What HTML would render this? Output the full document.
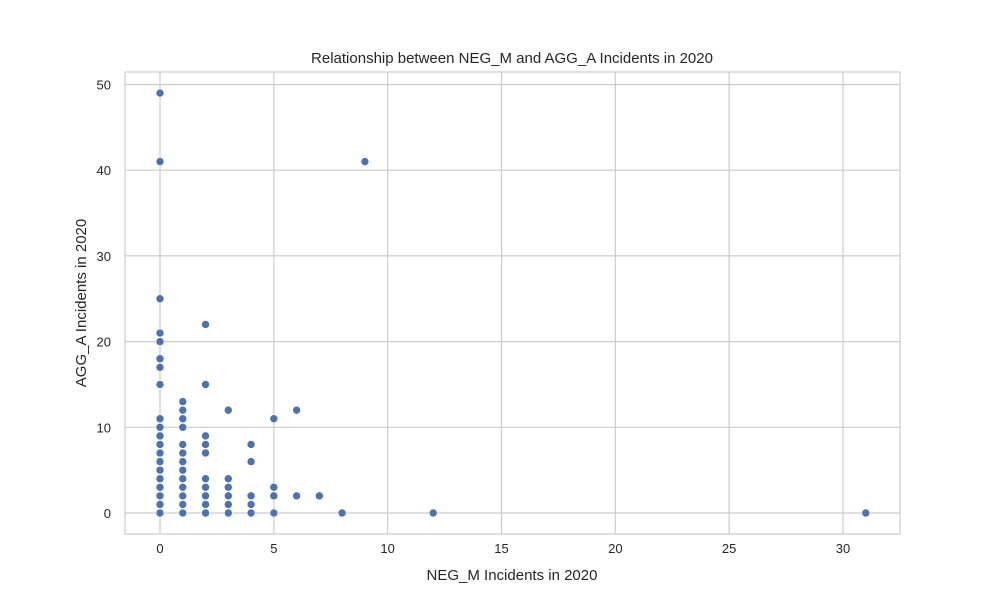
<!DOCTYPE html>
<html><head><meta charset="utf-8"><style>
body{margin:0;background:#fff;font-family:"Liberation Sans","DejaVu Sans",sans-serif;}
</style></head><body>
<svg id="chart" width="1000" height="600" style="display:block">
<rect x="125" y="72" width="775" height="462" fill="#fff" stroke="#ccc" stroke-width="1.2"/>
<g id="grid"></g><g id="ticks"></g><g id="pts"></g>
<text x="512" y="63" text-anchor="middle" font-size="15" fill="#262626">Relationship between NEG_M and AGG_A Incidents in 2020</text>
<text x="512" y="580" text-anchor="middle" font-size="15" fill="#262626">NEG_M Incidents in 2020</text>
<text transform="translate(86,303) rotate(-90)" text-anchor="middle" font-size="15" fill="#262626">AGG_A Incidents in 2020</text>
</svg>
<script>
const xTicks=[0,5,10,15,20,25,30];
const yTicks=[0,10,20,30,40,50];
const xVals=[0,0,0,0,0,0,0,0,0,0,0,0,0,0,0,0,0,0,0,0,
1,1,1,1,1,1,1,1,1,1,1,1,1,
2,2,2,2,2,2,2,2,2,2,
3,3,3,3,3,3,
4,4,4,4,4,
5,5,5,5,
6,6,7,8,9,12,31];
const yVals=[0,1,2,3,4,5,6,7,8,9,10,11,15,17,18,20,21,25,41,49,
0,1,2,3,4,5,6,7,8,10,11,12,13,
0,1,2,3,4,7,8,9,15,22,
0,1,2,3,4,12,
0,1,2,6,8,
0,2,3,11,
2,12,2,0,41,0,0];
const NS="http://www.w3.org/2000/svg";
const xs=v=>160+v*(843-160)/30;
const ys=v=>513-v*(513-84.5)/50;
const g=document.getElementById('grid'),t=document.getElementById('ticks'),p=document.getElementById('pts');
function mk(tag,a,parent){const e=document.createElementNS(NS,tag);for(const k in a)e.setAttribute(k,a[k]);parent.appendChild(e);return e;}
xTicks.forEach(v=>{
const l=mk('line',{x1:xs(v),x2:xs(v),y1:72,y2:534,stroke:'#ccc','stroke-width':1.2},g);


const tx=mk('text',{x:xs(v),y:553,'text-anchor':'middle','font-size':13,fill:'#262626'},t);tx.textContent=v;


});
yTicks.forEach(v=>{
const l=mk('line',{x1:125,x2:900,y1:ys(v),y2:ys(v),stroke:'#ccc','stroke-width':1.2},g);


const tx=mk('text',{x:111,y:ys(v)+5,'text-anchor':'end','font-size':13,fill:'#262626'},t);tx.textContent=v;


});
xVals.forEach((x,i)=>{
const c=mk('circle',{cx:xs(x),cy:ys(yVals[i]),r:4,fill:'#4c72b0',stroke:'#fff','stroke-width':0.6},p);


});
</script>
</body></html>
